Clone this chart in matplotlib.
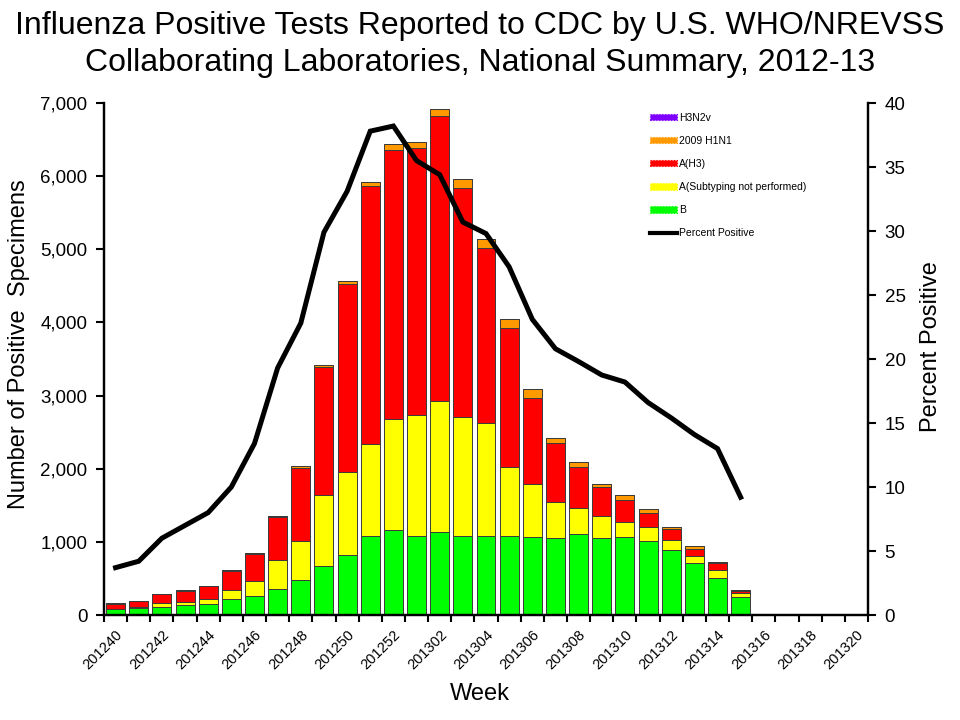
import matplotlib
matplotlib.use("Agg")
import matplotlib.pyplot as plt
import numpy as np
from matplotlib.patches import Patch
from matplotlib.lines import Line2D
from matplotlib.ticker import FuncFormatter, MultipleLocator

plt.rcParams['font.family'] = ['Liberation Sans', 'DejaVu Sans']

weeks = ['201240', '201241', '201242', '201243', '201244', '201245', '201246', '201247',
         '201248', '201249', '201250', '201251', '201252', '201301', '201302', '201303',
         '201304', '201305', '201306', '201307', '201308', '201309', '201310', '201311',
         '201312', '201313', '201314', '201315', '201316', '201317', '201318', '201319',
         '201320']

b_vals = [78, 92, 115, 132, 146, 223, 255, 351, 482, 666, 816, 1084, 1158, 1085, 1130,
          1076, 1085, 1078, 1066, 1053, 1103, 1049, 1066, 1008, 884, 715, 506, 242]
a_unsub = [5, 22, 45, 50, 68, 113, 205, 396, 533, 974, 1135, 1250, 1526, 1654, 1796,
           1636, 1536, 947, 721, 488, 364, 300, 201, 191, 137, 92, 105, 55]
a_h3 = [72, 72, 127, 148, 182, 269, 370, 598, 1000, 1746, 2579, 3532, 3674, 3646, 3896,
        3130, 2393, 1895, 1176, 806, 552, 397, 305, 200, 151, 95, 100, 27]
h1n1_2009 = [9, 6, 5, 6, 5, 6, 12, 9, 19, 32, 41, 54, 77, 78, 96,
             115, 127, 123, 123, 69, 73, 41, 64, 46, 36, 37, 14, 14]
h3n2v = [0, 0, 0, 0, 0, 0, 6, 0, 0, 0, 0, 0, 0, 0, 0,
         0, 0, 0, 0, 0, 0, 0, 0, 0, 0, 0, 0, 0]
pct_positive = [3.7, 4.2, 6.0, 7.0, 8.0, 10.0, 13.4, 19.3, 22.8, 29.9, 33.1, 37.8, 38.2,
                35.5, 34.4, 30.7, 29.8, 27.2, 23.1, 20.8, 19.8, 18.75, 18.2, 16.6, 15.4,
                14.1, 13.0, 9.2]

series = [
    ('B', b_vals, '#00FF00'),
    ('A(Subtyping not performed)', a_unsub, '#FFFF00'),
    ('A(H3)', a_h3, '#FF0000'),
    ('2009 H1N1', h1n1_2009, '#FF9900'),
    ('H3N2v', h3n2v, '#7F00FF'),
]

fig = plt.figure(figsize=(9.6, 7.2), dpi=100)
ax = fig.add_axes([104/960, 1-615/720, (868-104)/960, (615-103)/720])
ax2 = ax.twinx()

n = len(b_vals)
x = np.arange(n)
bottom = np.zeros(n)
for name, vals, col in series:
    v = np.array(vals, dtype=float)
    ax.bar(x, v, bottom=bottom, width=0.82, color=col, edgecolor='#3a3a3a',
           linewidth=0.7, zorder=2)
    bottom += v

ax2.plot(x, pct_positive, color='black', lw=3.6, solid_joinstyle='miter', zorder=3)

ax.set_xlim(-0.5, len(weeks) - 0.5)
ax.set_ylim(0, 7000)
ax2.set_ylim(0, 40)

ax.yaxis.set_major_locator(MultipleLocator(1000))
ax.yaxis.set_major_formatter(FuncFormatter(lambda v, p: f'{int(v):,}'))
ax2.yaxis.set_major_locator(MultipleLocator(5))

major_idx = list(range(0, len(weeks), 2))
ax.set_xticks(major_idx)
ax.set_xticklabels([weeks[i] for i in major_idx], rotation=45, ha='right', va='top',
                   rotation_mode='anchor', fontsize=10.5)
ax.set_xticks(np.arange(-0.5, len(weeks)), minor=True)
ax.tick_params(axis='x', which='major', length=0, pad=9)
ax.tick_params(axis='x', which='minor', length=5, width=1.5, direction='out')
ax.tick_params(axis='y', which='major', length=6, width=1.5, direction='out',
               labelsize=13.5, pad=6)
ax2.tick_params(axis='y', which='major', length=6, width=1.5, direction='out',
                labelsize=13.5, pad=6)

for a in (ax, ax2):
    a.spines['top'].set_visible(False)
    for s in ('left', 'right', 'bottom'):
        a.spines[s].set_linewidth(1.6)

ax.set_ylabel('Number of Positive  Specimens', fontsize=17)
ax.yaxis.set_label_coords((30-104)/764, (615-344)/512)
ax2.set_ylabel('Percent Positive', fontsize=17)
ax2.yaxis.set_label_coords((920-104)/764, (615-347)/512)
ax.set_xlabel('Week', fontsize=17)
ax.xaxis.set_label_coords((480-104)/764, (615-683)/512)

fig.text(0.5, 1-26/720, 'Influenza Positive Tests Reported to CDC by U.S. WHO/NREVSS',
         ha='center', va='center', fontsize=23)
fig.text(0.5, 1-63/720, 'Collaborating Laboratories, National Summary, 2012-13',
         ha='center', va='center', fontsize=23)

handles = [Patch(facecolor=c, edgecolor=c, linestyle=':', linewidth=0.8)
           for (_, _, c) in series[::-1]]
labels = [s[0] for s in series[::-1]]
handles.append(Line2D([0], [0], color='black', lw=3))
labels.append('Percent Positive')
fig.legend(handles, labels, loc='upper left', bbox_to_anchor=(650/960, 1-113/720),
           frameon=False, fontsize=7.5, handlelength=2.6, handleheight=0.55,
           labelspacing=1.25, handletextpad=0.15, borderaxespad=0, borderpad=0)

fig.savefig('out.png', dpi=100)
